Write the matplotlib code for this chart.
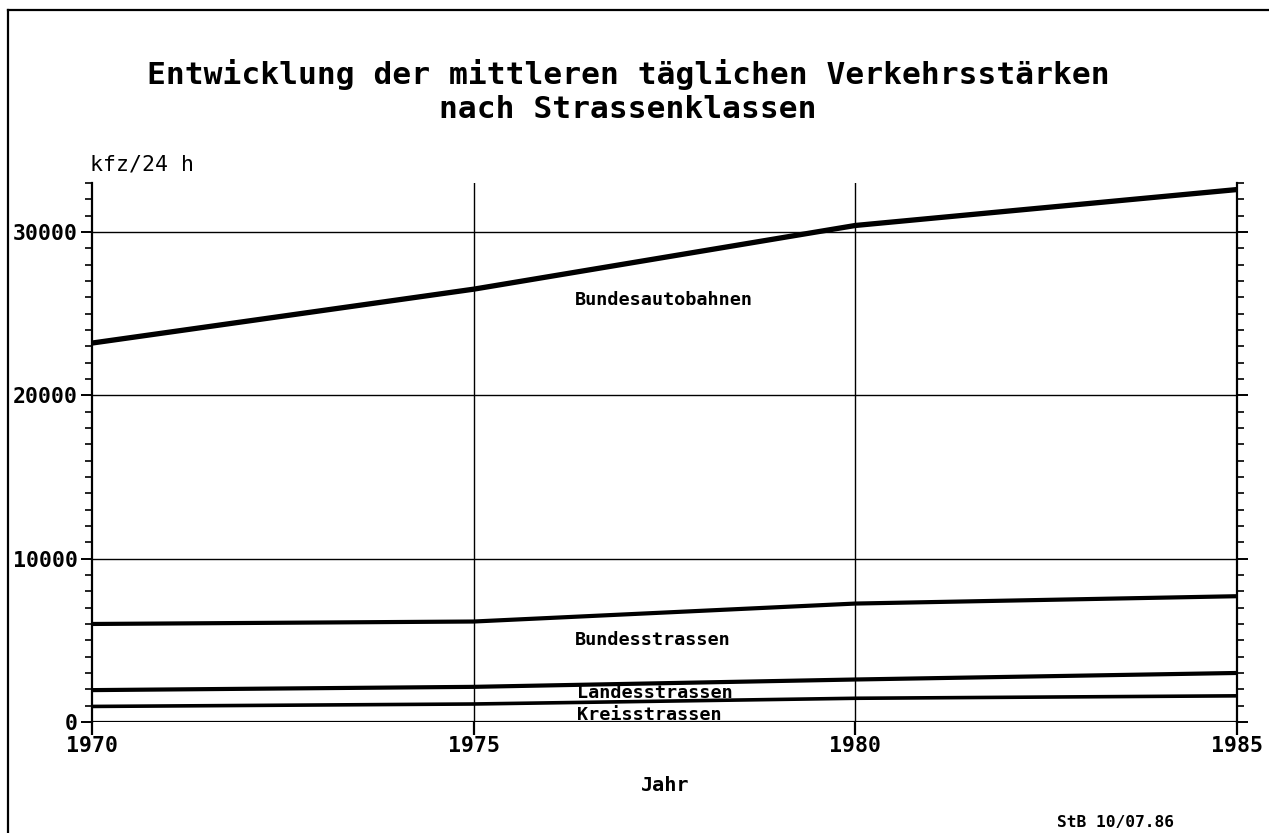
import matplotlib
matplotlib.use("Agg")
import matplotlib.pyplot as plt
from matplotlib.lines import Line2D
from matplotlib.ticker import MultipleLocator

# Daten: mittlere tägliche Verkehrsstärken (kfz/24 h)
jahre = [1970, 1975, 1980, 1985]
bundesautobahnen = [23200, 26500, 30400, 32600]
bundesstrassen = [6000, 6150, 7250, 7700]
landesstrassen = [1950, 2150, 2600, 3000]
kreisstrassen = [950, 1100, 1450, 1600]

schrift = "DejaVu Sans Mono"
plt.rcParams["font.family"] = schrift

fig = plt.figure(figsize=(12.69, 8.33), dpi=100)
ax = fig.add_axes([0.0725, 0.1333, 0.9023, 0.647])

ax.set_xlim(1970, 1985)
ax.set_ylim(0, 33000)

# Gitter
for y in [10000, 20000, 30000]:
    ax.axhline(y, color="black", lw=1.0, zorder=1)
for x in [1975, 1980]:
    ax.axvline(x, color="black", lw=1.0, zorder=1)
ax.axhline(0, color="black", lw=1.6, zorder=1)

ax.plot(jahre, bundesautobahnen, color="black", lw=3.8, solid_capstyle="butt", zorder=3)
ax.plot(jahre, bundesstrassen, color="black", lw=3.0, solid_capstyle="butt", zorder=3)
ax.plot(jahre, landesstrassen, color="black", lw=3.0, solid_capstyle="butt", zorder=3)
ax.plot(jahre, kreisstrassen, color="black", lw=2.6, solid_capstyle="butt", zorder=3)

ax.text(1976.33, 25840, "Bundesautobahnen", fontsize=13.3, fontweight="bold", va="center")
ax.text(1976.33, 5020, "Bundesstrassen", fontsize=13.3, fontweight="bold", va="center")
ax.text(1976.35, 1800, "Landesstrassen", fontsize=13.3, fontweight="bold", va="center")
ax.text(1976.35, 450, "Kreisstrassen", fontsize=13.3, fontweight="bold", va="center")

# Achsen
ax.spines["top"].set_visible(False)
ax.spines["bottom"].set_visible(False)
ax.spines["left"].set_linewidth(1.6)
ax.spines["right"].set_linewidth(1.6)

ax.xaxis.set_major_locator(MultipleLocator(5))
ax.yaxis.set_major_locator(MultipleLocator(10000))
ax.yaxis.set_minor_locator(MultipleLocator(1000))
ax.tick_params(axis="x", direction="out", length=9, width=1.6, labelsize=15.5, pad=1)
ax.tick_params(axis="y", which="major", direction="out", length=8, width=1.4,
               left=True, right=True, labelsize=15.5, pad=2)
ax.tick_params(axis="y", which="minor", direction="out", length=5, width=1.2,
               left=True, right=True)
for lab in ax.get_xticklabels() + ax.get_yticklabels():
    lab.set_fontweight("bold")

fig.text(0.495, 0.910, "Entwicklung der mittleren täglichen Verkehrsstärken",
         ha="center", va="center", fontsize=22.5, fontweight="bold")
fig.text(0.495, 0.868, "nach Strassenklassen",
         ha="center", va="center", fontsize=22.5, fontweight="bold")
fig.text(0.071, 0.802, "kfz/24 h", ha="left", va="center", fontsize=15.5)
fig.text(0.524, 0.057, "Jahr", ha="center", va="center", fontsize=14.5, fontweight="bold")
fig.text(0.833, 0.013, "StB 10/07.86", ha="left", va="center", fontsize=11.7, fontweight="bold")

# Rahmen links und oben
fig.add_artist(Line2D([0.0063, 0.0063], [0.0, 0.988], transform=fig.transFigure, color="black", lw=1.6))
fig.add_artist(Line2D([0.0063, 1.0], [0.988, 0.988], transform=fig.transFigure, color="black", lw=1.6))

fig.savefig("out.png", dpi=100)
